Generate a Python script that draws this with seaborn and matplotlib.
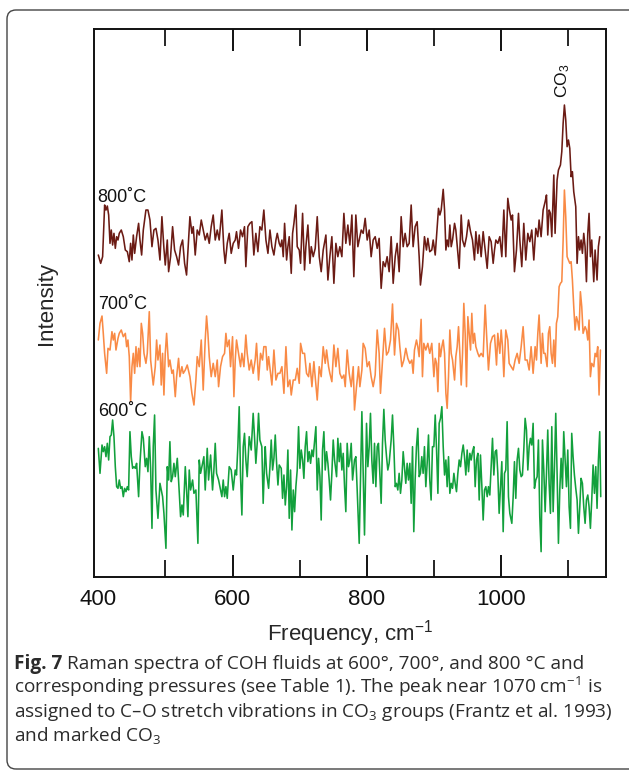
import matplotlib
matplotlib.use("Agg")
import matplotlib.pyplot as plt
import seaborn as sns
from matplotlib.patches import FancyBboxPatch
from matplotlib.transforms import IdentityTransform

# Raman spectra (frequency in cm-1, intensity in arbitrary units)
freq_800 = [
    400.0, 403.5, 406.4, 409.4, 411.4, 413.4, 415.4, 417.4, 419.3, 421.3,
    423.3, 425.3, 427.3, 429.3, 431.2, 434.2, 437.2, 440.2, 443.2, 446.1,
    448.1, 450.1, 452.1, 454.1, 457.0, 460.0, 462.0, 464.5, 467.0, 470.9,
    473.9, 476.9, 479.9, 482.8, 485.8, 488.8, 491.8, 494.7, 497.7, 499.7,
    502.7, 504.7, 507.6, 510.6, 513.6, 516.6, 519.5, 522.5, 525.5, 528.5,
    531.4, 534.4, 536.4, 539.4, 541.4, 544.3, 547.3, 550.3, 553.3, 556.2,
    559.2, 562.2, 565.2, 568.1, 571.1, 574.1, 577.1, 580.0, 584.0, 587.0,
    589.0, 592.0, 594.9, 597.9, 600.9, 603.9, 605.8, 608.8, 611.8, 614.8,
    617.7, 619.7, 622.7, 625.7, 628.7, 631.6, 634.6, 637.6, 640.6, 643.5,
    646.5,
    649.6, 652.6, 655.6, 658.5, 661.5, 664.5, 666.5, 669.4, 671.4, 673.4,
    675.4, 677.4, 680.4, 682.3, 684.3, 687.3, 689.3, 691.3, 694.2, 696.2,
    699.2, 701.2, 704.2, 707.1, 709.1, 712.1, 715.1, 717.1, 720.0, 723.0,
    726.0, 729.0, 731.9, 734.9, 738.9, 741.9, 744.8, 747.8, 750.8, 753.8,
    756.7, 759.7, 762.7, 765.7, 768.6, 771.6, 774.6, 777.6, 780.5, 783.5,
    786.5, 789.5, 791.5, 794.4, 797.4, 800.4, 803.4, 806.3, 809.3, 812.3,
    815.3, 818.2, 821.2, 824.2, 827.2, 830.1, 833.1, 836.1, 839.1, 842.1,
    845.0, 848.0, 851.0, 854.0, 856.9, 859.9, 862.9, 865.9, 868.8, 871.8,
    874.8, 877.8, 879.7, 882.7, 885.7, 888.7, 890.7, 893.6, 896.6,
    898.7, 901.7, 904.7, 906.6, 908.6, 910.6, 913.6, 915.6, 917.6, 919.5,
    921.5, 923.5, 925.5, 927.5, 930.5, 932.4, 935.4, 937.4, 940.4, 942.4,
    945.3, 948.3, 951.3, 954.3, 957.2, 960.2, 962.2, 965.2, 967.2, 970.1,
    973.1, 976.1, 979.1, 982.0, 985.0, 988.0, 990.0, 992.0, 994.9, 997.9,
    1000.9, 1003.9, 1006.8, 1009.8, 1011.8, 1014.8, 1016.8, 1019.7, 1022.7, 1025.7,
    1027.7, 1030.6, 1033.6, 1036.6, 1039.6, 1042.6, 1045.5, 1048.5, 1051.5, 1054.5,
    1056.4, 1059.4, 1062.4, 1065.4, 1067.4, 1069.3, 1071.3, 1073.3, 1075.3, 1078.3,
    1080.2, 1083.2, 1085.2, 1088.2, 1090.2, 1092.2, 1094.1, 1096.1, 1098.1, 1100.1,
    1102.1, 1104.1, 1106.0, 1108.0, 1111.0, 1113.0, 1115.0, 1117.0, 1118.9, 1120.9,
    1122.9, 1124.9, 1126.9, 1128.9, 1130.8, 1132.8, 1134.8, 1137.8, 1139.8, 1142.7,
    1144.7, 1146.7,
]
int_800 = [
    966, 941, 961, 1116, 1101, 1113, 1086, 1001, 1041, 996,
    1031, 986, 1021, 1011, 1031, 1041, 1021, 981, 976, 946,
    1001, 951, 1026, 971, 1021, 1061, 1011, 966, 1041, 1101,
    1101, 1071, 991, 1041, 1046, 1011, 951, 1081, 986, 936,
    1011, 916, 961, 1051, 981, 961, 936, 991, 1011, 941,
    906, 1011, 1081, 1031, 1051, 966, 1041, 1026, 1071, 1041,
    1011, 1031, 1001, 1051, 1086, 1011, 1041, 1011, 1101, 981,
    941, 1001, 1031, 971, 1001, 1011, 1036, 986, 1041, 1021,
    1051, 931, 1051, 1061, 1066, 966, 1031, 976, 1051, 1041,
    1101,
    1011, 971, 1041, 991, 966, 1011, 1031, 1001, 991, 1011,
    961, 1061, 951, 991, 1021, 911, 1031, 1061, 1116, 991,
    981, 941, 1091, 921, 991, 1056, 941, 991, 961, 986,
    1081, 961, 916, 981, 1026, 891, 961, 1021, 881, 1001,
    961, 991, 961, 1091, 1001, 1056, 996, 1086, 901, 1086,
    991, 1021, 1041, 1031, 1076, 1011, 1041, 961, 1011, 1021,
    986, 1016, 866, 946, 931, 961, 916, 1021, 881, 961,
    1001, 916, 1081, 991, 1031, 991, 1001, 1116, 991, 1051,
    1066, 961, 876, 931, 1021, 981, 1016, 976, 981,
    1011, 966, 1051, 1106, 1086, 1101, 1163, 1101, 981, 1011,
    991, 1056, 991, 1011, 1061, 1041, 971, 926, 1086, 1011,
    991, 1021, 1071, 1036, 1011, 951, 1036, 971, 1026, 961,
    1036, 981, 926, 1021, 1006, 941, 981, 1011, 1001, 1021,
    961, 1101, 961, 1136, 1106, 1071, 1086, 916, 981, 1091,
    1011, 931, 1061, 951, 1031, 1006, 1041, 951, 1046, 1021,
    1071, 1021, 1101, 1126, 1146, 1026, 1101, 1091, 1021, 1206,
    1031, 1191, 1221, 1236, 1276, 1361, 1416, 1371, 1291, 1311,
    1286, 1201, 1216, 1156, 1111, 941, 1021, 981, 1011, 971,
    1031, 991, 886, 1031, 1091, 961, 1011, 886, 981, 891,
    991, 1021,
]

freq_700 = [
    400.0, 402.5, 405.5, 407.4, 409.4, 412.4, 414.4, 417.4, 420.3, 422.3,
    424.3, 426.3, 429.3, 431.2, 434.2, 437.2, 440.2, 442.2, 444.1, 446.1,
    448.1, 450.1, 452.1, 454.1, 456.1, 458.0, 460.0, 462.0, 464.0, 466.0,
    468.0, 470.9, 472.9, 475.9, 477.9, 479.9, 481.8, 484.8, 486.8, 488.8,
    491.8, 493.7, 495.7, 497.7, 499.7, 501.7, 504.7, 506.6, 509.6, 511.6,
    514.6, 516.6, 519.5, 521.5, 524.5, 526.5, 529.5, 532.4, 536.4, 539.4,
    542.4, 545.3, 547.3, 550.3, 553.3, 556.2, 559.2, 561.2, 563.2, 565.2,
    568.1, 571.1, 574.1, 577.1, 579.1, 582.0, 585.0, 588.0, 590.0, 592.0,
    594.9, 596.9, 599.9, 601.9, 603.9, 605.8, 608.8, 611.8, 613.8, 616.8,
    619.7, 621.7, 624.7, 627.7, 630.6, 633.6, 635.6, 638.6, 641.6, 644.5,
    646.5,
    649.6, 651.6, 653.6, 655.6, 658.5, 661.5, 664.5, 667.5, 670.4, 673.4,
    676.4, 679.4, 682.3, 685.3, 687.3, 690.3, 693.3, 696.2, 699.2, 701.2,
    704.2, 707.1, 710.1, 713.1, 715.1, 718.1, 721.0, 723.0, 726.0, 729.0,
    731.9, 734.9, 737.9, 739.9, 742.9, 744.8, 747.8, 750.8, 753.8, 756.7,
    759.7, 762.7, 765.7, 767.7, 770.6, 773.6, 776.6, 779.6, 781.5, 784.5,
    787.5, 789.5, 792.5, 794.4, 797.4, 800.4, 803.4, 806.3, 809.3, 812.3,
    815.3, 818.2, 820.2, 823.2, 826.2, 829.2, 832.1, 835.1, 838.1, 841.1,
    844.0, 847.0, 849.0, 852.0, 855.0, 857.9, 860.9, 863.9, 866.9, 868.8,
    870.8, 873.8, 875.8, 877.8, 880.7, 882.7, 884.7, 887.7, 890.7, 893.6,
    896.6,
    899.7, 901.7, 903.7, 905.7, 907.6, 909.6, 911.6, 913.6, 915.6, 917.6,
    919.5, 921.5, 923.5, 925.5, 927.5, 930.5, 932.4, 934.4, 936.4, 938.4,
    940.4, 942.4, 944.3, 946.3, 948.3, 950.3, 952.3, 954.3, 956.2, 958.2,
    960.2, 962.2, 965.2, 967.2, 970.1, 973.1, 976.1, 978.1, 981.0, 984.0,
    987.0, 990.0, 993.0, 994.9, 997.9, 999.9, 1001.9, 1003.9, 1006.8, 1009.8,
    1011.8, 1014.8, 1017.8, 1020.7, 1023.7, 1026.7, 1029.7, 1032.6, 1035.6, 1038.6,
    1041.6, 1044.5, 1047.5, 1050.5, 1052.5, 1054.5, 1056.4, 1059.4, 1061.4, 1063.4,
    1065.4, 1068.3, 1070.3, 1072.3, 1074.3, 1076.3, 1078.3, 1080.2, 1082.2, 1084.2,
    1086.2, 1088.2, 1090.2, 1092.2, 1094.1, 1096.1, 1098.1, 1100.1, 1102.1, 1104.1,
    1106.0, 1108.0, 1110.0, 1112.0, 1114.0, 1116.0, 1117.9, 1119.9, 1121.9, 1124.9,
    1126.9, 1128.9, 1130.8, 1132.8, 1134.8, 1137.8, 1139.8, 1141.8, 1143.7, 1145.7,
    1147.7,
]
int_700 = [
    711, 761, 783, 731, 671, 611, 686, 681, 736, 711,
    731, 681, 716, 731, 741, 721, 731, 691, 711, 661,
    526, 631, 671, 611, 691, 631, 686, 631, 761, 731,
    671, 641, 671, 796, 651, 611, 576, 631, 711, 651,
    696, 576, 671, 546, 671, 731, 631, 651, 611, 621,
    541, 601, 656, 601, 631, 611, 621, 636, 601, 551,
    516, 591, 661, 631, 711, 561, 711, 783, 731, 661,
    601, 641, 601, 651, 571, 631, 661, 671, 731, 691,
    711, 631, 721, 541, 651, 711, 671, 631, 671, 631,
    726, 671, 621, 651, 611, 651, 701, 591, 671, 651,
    691,
    691, 621, 661, 626, 576, 681, 591, 611, 611, 631,
    551, 691, 571, 591, 546, 591, 591, 626, 581, 701,
    671, 671, 611, 601, 641, 571, 646, 601, 531, 631,
    601, 691, 641, 681, 631, 611, 586, 696, 631, 686,
    611, 596, 606, 571, 681, 611, 571, 631, 501, 571,
    631, 571, 621, 701, 686, 631, 646, 601, 571, 606,
    741, 671, 551, 651, 746, 666, 676, 711, 819, 666,
    761, 741, 691, 631, 651, 686, 656, 641, 651, 611,
    681, 711, 691, 661, 773, 601, 701, 681, 701, 671,
    701,
    601, 656, 641, 556, 701, 661, 691, 711, 671, 551,
    506, 601, 741, 671, 651, 591, 661, 691, 751, 671,
    576, 671, 821, 731, 571, 781, 731, 681, 791, 701,
    731, 691, 671, 661, 671, 661, 816, 731, 621, 701,
    721, 726, 636, 731, 671, 741, 691, 601, 741, 711,
    641, 631, 621, 651, 671, 641, 691, 751, 651, 651,
    621, 691, 611, 691, 651, 731, 786, 641, 731, 671,
    671, 631, 731, 751, 671, 641, 711, 631, 761, 781,
    871, 881, 886, 1011, 1161, 1081, 961, 951, 941, 946,
    891, 811, 741, 781, 766, 741, 856, 811, 731, 751,
    741, 711, 771, 601, 641, 631, 671, 661, 691, 546,
    681,
]

freq_600 = [
    400.0, 402.5, 405.5, 407.4, 409.4, 411.4, 413.4, 415.4, 417.4, 419.3,
    421.3, 423.3, 425.3, 427.3, 429.3, 431.2, 433.2, 435.2, 437.2, 439.2,
    441.2, 443.2, 445.1, 447.1, 449.1, 451.1, 453.1, 455.1, 457.0, 460.0,
    462.0, 465.0, 467.0, 469.9, 471.9, 473.9, 475.9, 477.9, 479.9, 481.8,
    483.8, 485.8, 488.8, 491.8, 493.7, 495.7, 497.7, 500.7, 502.7, 504.7,
    506.6, 508.6, 510.6, 512.6, 514.6, 517.6, 519.5, 522.5, 524.5, 526.5,
    529.5, 531.4, 533.4, 535.4, 537.4, 540.4, 542.4, 545.3, 548.3, 550.3,
    552.3, 554.3, 557.2, 559.2, 562.2, 564.2, 567.2, 570.1, 572.1, 574.1,
    576.1, 579.1, 582.0, 584.0, 586.0, 588.0, 590.0, 592.0, 594.9, 597.9,
    600.9, 603.9, 605.8, 607.8, 609.8, 611.8, 613.8, 615.8, 617.7, 619.7,
    621.7, 624.7, 627.7, 630.6, 632.6, 634.6, 636.6, 638.6, 640.6, 643.5,
    645.5, 647.5,
    648.6, 650.6, 653.6, 655.6, 657.5, 659.5, 661.5, 663.5, 665.5, 667.5,
    669.4, 672.4, 674.4, 676.4, 678.4, 680.4, 682.3, 684.3, 686.3, 688.3,
    690.3, 692.3, 694.2, 696.2, 698.2, 700.2, 702.2, 704.2, 706.1, 708.1,
    710.1, 712.1, 714.1, 716.1, 718.1, 720.0, 722.0, 724.0, 726.0, 728.0,
    730.0, 731.9, 733.9, 735.9, 737.9, 739.9, 741.9, 743.8, 745.8, 747.8,
    749.8, 751.8, 754.8, 756.7, 758.7, 760.7, 762.7, 764.7, 766.7, 768.6,
    770.6, 772.6, 774.6, 776.6, 778.6, 781.5, 783.5, 785.5, 788.5, 790.5,
    792.5, 794.4, 796.4, 799.4, 801.4, 803.4, 805.3, 807.3, 809.3, 811.3,
    813.3, 815.3, 817.2, 819.2, 821.2, 823.2, 825.2, 827.2, 829.2, 831.1,
    833.1, 836.1, 838.1, 840.1, 842.1, 844.0, 846.0, 848.0, 850.0, 852.0,
    854.0, 855.9, 857.9, 859.9, 861.9, 863.9, 865.9, 867.9, 869.8, 871.8,
    873.8, 875.8, 877.8, 879.7, 881.7, 883.7, 885.7, 887.7, 889.7, 891.7,
    893.6, 895.6, 897.6,
    899.7, 901.7, 903.7, 905.7, 907.6, 909.6, 911.6, 913.6, 915.6, 917.6,
    919.5, 921.5, 923.5, 925.5, 927.5, 929.5, 931.4, 933.4, 935.4, 937.4,
    939.4, 941.4, 943.4, 945.3, 947.3, 949.3, 951.3, 953.3, 955.3, 957.2,
    959.2, 961.2, 963.2, 965.2, 967.2, 969.1, 971.1, 973.1, 975.1, 977.1,
    979.1, 981.0, 983.0, 985.0, 987.0, 989.0, 991.0, 993.0, 994.9, 996.9,
    998.9, 1000.9, 1002.9, 1004.9, 1006.8, 1008.8, 1010.8, 1012.8, 1015.8, 1017.8,
    1019.7, 1021.7, 1023.7, 1025.7, 1027.7, 1029.7, 1031.6, 1033.6, 1035.6, 1037.6,
    1039.6, 1041.6, 1043.5, 1045.5, 1047.5, 1049.5, 1051.5, 1053.5, 1055.4, 1057.4,
    1059.4, 1061.4, 1063.4, 1065.4, 1067.4, 1069.3, 1071.3, 1073.3, 1075.3, 1077.3,
    1079.3, 1081.2, 1083.2, 1085.2, 1087.2, 1089.2, 1091.2, 1093.1, 1095.1, 1097.1,
    1099.1, 1101.1, 1103.1, 1105.0, 1107.0, 1109.0, 1111.0, 1113.0, 1115.0, 1117.0,
    1118.9, 1120.9, 1122.9, 1124.9, 1126.9, 1128.9, 1130.8, 1132.8, 1134.8, 1136.8,
    1138.8, 1140.8, 1142.7, 1144.7, 1146.7, 1148.2,
]
int_600 = [
    386, 311, 396, 376, 391, 361, 401, 351, 421, 426,
    471, 421, 331, 271, 266, 291, 266, 271, 241, 266,
    256, 271, 261, 436, 361, 326, 331, 326, 341, 241,
    341, 436, 416, 331, 356, 316, 421, 326, 146, 391,
    486, 261, 176, 281, 261, 241, 191, 86, 331, 291,
    406, 286, 301, 341, 301, 356, 291, 181, 216, 186,
    331, 261, 181, 321, 261, 291, 251, 261, 101, 351,
    311, 331, 361, 261, 386, 291, 366, 261, 321, 401,
    311, 291, 261, 241, 291, 241, 271, 236, 331, 321,
    261, 321, 306, 391, 511, 301, 186, 391, 431, 351,
    301, 421, 381, 491, 421, 341, 401, 491, 411, 391,
    221, 341,
    391, 311, 266, 331, 411, 321, 356, 426, 341, 276,
    336, 326, 236, 306, 216, 271, 381, 176, 321, 141,
    261, 196, 271, 321, 451, 326, 381, 351, 296, 391,
    436, 346, 376, 341, 381, 361, 406, 451, 261, 356,
    301, 171, 381, 436, 321, 376, 341, 291, 231, 311,
    411, 351, 301, 416, 346, 401, 321, 371, 271, 196,
    401, 331, 351, 401, 291, 351, 361, 261, 101, 291,
    496, 321, 126, 461, 331, 391, 491, 351, 281, 401,
    271, 391, 401, 311, 221, 401, 503, 411, 361, 321,
    341, 411, 486, 391, 271, 281, 261, 311, 251, 291,
    376, 331, 281, 341, 291, 341, 221, 391, 136, 291,
    391, 446, 301, 311, 361, 311, 391, 271, 341, 426,
    291, 231, 391,
    391, 486, 381, 251, 461, 476, 511, 391, 306, 351,
    271, 361, 251, 281, 266, 311, 281, 256, 311, 351,
    331, 371, 396, 361, 306, 381, 316, 371, 351, 376,
    391, 271, 351, 371, 231, 366, 276, 171, 261, 271,
    241, 271, 246, 331, 416, 306, 376, 381, 311, 191,
    271, 346, 136, 311, 321, 466, 241, 191, 161, 241,
    346, 236, 351, 386, 321, 301, 306, 381, 476, 441,
    321, 391, 416, 396, 461, 266, 291, 301, 411, 181,
    76, 411, 321, 196, 311, 441, 281, 191, 451, 196,
    331, 491, 311, 101, 261, 356, 266, 436, 351, 271,
    381, 211, 146, 431, 361, 306, 266, 231, 131, 211,
    296, 281, 211, 161, 231, 246, 211, 146, 231, 336,
    251, 331, 206, 351, 436, 241,
]

labels = ["800˚C", "700˚C", "600˚C"]
label_y = [1126, 803, 483]
colors = ["#6b1b14", "#f98a45", "#12a03c"]
x_ticks = [400, 600, 800, 1000]
x_minor = [500, 700, 900, 1100]

assert len(freq_800) == len(int_800)
assert len(freq_700) == len(int_700)
assert len(freq_600) == len(int_600)

sns.set_style("white")
plt.rcParams["font.family"] = ["Liberation Sans", "DejaVu Sans"]
plt.rcParams["mathtext.default"] = "regular"

fig = plt.figure(figsize=(6.29, 7.72), dpi=100)
ax = fig.add_axes([0.1499, 0.2526, 0.8135, 0.7098])

series = [(freq_800, int_800), (freq_700, int_700), (freq_600, int_600)]
for (fx, fy), c in zip(series, colors):
    sns.lineplot(x=fx, y=fy, ax=ax, color=c, lw=1.15, sort=False, estimator=None)

ax.set_xlim(394, 1156)
ax.set_ylim(0, 1644)
ax.set_yticks([])
ax.set_xticks(x_ticks)
ax.set_xticks(x_minor, minor=True)
ax.tick_params(axis="x", which="major", direction="in", length=15.8, width=1.4,
               top=True, bottom=True, labelsize=16, pad=8.5, colors="#111111")
ax.tick_params(axis="x", which="minor", direction="in", length=12, width=1.4,
               top=True, bottom=True)
for ln in (ax.xaxis.get_major_ticks()[0].tick1line, ax.xaxis.get_major_ticks()[0].tick2line):
    ln.set_visible(False)
for sp in ax.spines.values():
    sp.set_linewidth(1.4)
    sp.set_color("#111111")

ax.set_xlabel("Frequency, cm$^{-1}$", fontsize=16, labelpad=6)
ax.set_ylabel("Intensity", fontsize=16, labelpad=27)

for lab, y in zip(labels, label_y):
    ax.text(399, y, lab, fontsize=13, ha="left", va="baseline", color="#111111")
ax.text(1092, 1488, "CO$_3$", fontsize=12.5, rotation=90, ha="center", va="center",
        color="#111111")

# caption below the chart
cap = dict(fontsize=13.7, color="#2b2b2b", family=["Open Sans", "DejaVu Sans"], va="baseline")
fx0 = 14 / 629
t = fig.text(fx0, 1 - 669 / 772, "Fig. 7", fontweight="bold", **cap)
bb = t.get_window_extent(renderer=fig.canvas.get_renderer())
fig.text((bb.x1 + 5) / 629, 1 - 669 / 772,
         "Raman spectra of COH fluids at 600°, 700°, and 800 °C and", **cap)
fig.text(fx0, 1 - 693 / 772,
         "corresponding pressures (see Table 1). The peak near 1070 cm$^{-1}$ is", **cap)
fig.text(fx0, 1 - 717 / 772,
         "assigned to C–O stretch vibrations in CO$_3$ groups (Frantz et al. 1993)", **cap)
fig.text(fx0, 1 - 741 / 772, "and marked CO$_3$", **cap)

# rounded frame around figure and caption
frame = FancyBboxPatch((7, 3), 700, 759, boxstyle="round,pad=0,rounding_size=9",
                       transform=IdentityTransform(), fill=False, lw=1.0,
                       edgecolor="#444444")
fig.add_artist(frame)

fig.savefig("out.png", dpi=100)
